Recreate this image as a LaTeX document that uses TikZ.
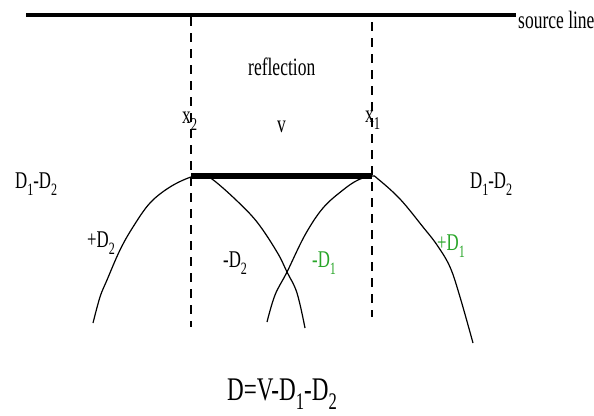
\documentclass[tikz,border=0pt]{standalone}
\usepackage{fontspec}
\setmainfont{Liberation Serif}[FakeStretch=0.7]
\usepackage{graphicx}
\definecolor{lgreen}{RGB}{40,165,40}
\newcommand\sbs[1]{\raisebox{-0.3em}{\scalebox{0.72}{#1}}}
\tikzset{
  lbl/.style={inner sep=0pt, anchor=base west, font=\fontsize{24}{26}\selectfont},
  biglbl/.style={inner sep=0pt, anchor=base west, font=\fontsize{25}{28}\selectfont},
  hugelbl/.style={inner sep=0pt, anchor=base west, font=\fontsize{33}{36}\selectfont},
  greenlbl/.style={lbl, text=lgreen},
  srcline/.style={line width=3.4pt},
  bar/.style={line width=5.5pt},
  guide/.style={line width=1.2pt, dash pattern=on 9pt off 7pt},
  curve/.style={line width=1.2pt}
}
\begin{document}
\begin{tikzpicture}[x=1pt,y=-1pt]
\useasboundingbox (0,0) rectangle (594,415);
% source line
\coordinate (s1) at (26,15);
\coordinate (s2) at (516,15);
\draw[srcline] (s1) -- (s2);
\node[biglbl] (src) at (518,28) {source line};
% dashed guides
\coordinate (g2t) at (191,17);
\coordinate (g2b) at (191,327);
\coordinate (g1t) at (372,22);
\coordinate (g1b) at (372,317);
\draw[guide] (g2t) -- (g2b);
\draw[guide] (g1t) -- (g1b);
% reflection bar
\coordinate (a2) at (191,176);
\coordinate (a1) at (372,176);
\draw[bar] (a2) -- (a1);
% hyperbolas
\draw[curve] plot[smooth, tension=0.6] coordinates {(93,323) (100,297) (107,280) (120,250) (133,227) (150,203) (170,187) (191,177) (203,176) (212,179) (235,199) (257,222) (277,252) (287,272) (297,293) (305,328)};
\draw[curve] plot[smooth, tension=0.6] coordinates {(267,322) (275,295) (287,272) (305,235) (323,208) (343,190) (358,180) (372,176) (378,179) (400,199) (423,227) (437,245) (450,267) (460,297) (473,343)};
% labels
\node[biglbl] (refl) at (248,75) {reflection};
\node[biglbl] (x2) at (182,123) {x\sbs{2}};
\node[biglbl] (v) at (277,132) {v};
\node[biglbl] (x1) at (365,122) {x\sbs{1}};
\node[lbl] (dl) at (15,188) {D\sbs{1}-D\sbs{2}};
\node[lbl] (dr) at (470,188) {D\sbs{1}-D\sbs{2}};
\node[lbl] (pd2) at (87,247) {+D\sbs{2}};
\node[greenlbl] (pd1) at (437,250) {+D\sbs{1}};
\node[lbl] (md2) at (223,267) {-D\sbs{2}};
\node[greenlbl] (md1) at (312,267) {-D\sbs{1}};
\node[hugelbl] (eq) at (227,400) {D=V-D\sbs{1}-D\sbs{2}};
\end{tikzpicture}
\end{document}
